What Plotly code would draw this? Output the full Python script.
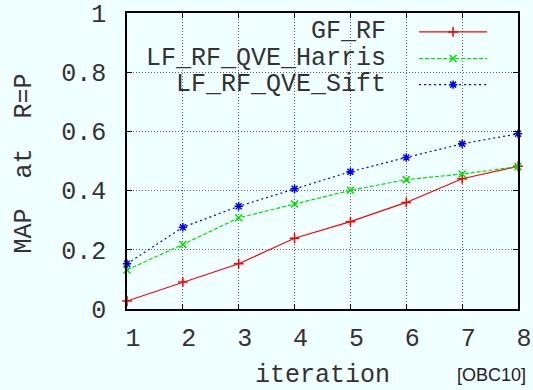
import plotly.graph_objects as go

iterations = [1, 2, 3, 4, 5, 6, 7, 8]
gf_rf = [0.027, 0.091, 0.153, 0.239, 0.295, 0.360, 0.440, 0.482]
lf_rf_qve_harris = [0.132, 0.218, 0.308, 0.355, 0.401, 0.437, 0.456, 0.481]
lf_rf_qve_sift = [0.153, 0.276, 0.347, 0.406, 0.464, 0.512, 0.558, 0.592]
series_names = ["GF_RF", "LF_RF_QVE_Harris", "LF_RF_QVE_Sift"]
y_ticks = [0, 0.2, 0.4, 0.6, 0.8, 1]
y_tick_labels = ["0", "0.2", "0.4", "0.6", "0.8", "1"]

BG = "#F0FFFF"
MONO = "Liberation Mono, Courier New, monospace"
FS = 25
TXT = "#333333"

styles = [
    dict(color="#FF0000", dash="solid", symbol="cross-thin-open"),
    dict(color="#00E000", dash="4px,2px", symbol="x-thin-open"),
    dict(color="#0000FF", dash="2px,3px", symbol="asterisk-open"),
]

fig = go.Figure()
for name, vals, st in zip(series_names, [gf_rf, lf_rf_qve_harris, lf_rf_qve_sift], styles):
    fig.add_trace(go.Scatter(
        x=iterations, y=vals, name=name, mode="lines+markers",
        line=dict(color=st["color"], width=1.2, dash=st["dash"]),
        marker=dict(symbol=st["symbol"], size=7, line=dict(color=st["color"], width=1.5)),
        showlegend=False, cliponaxis=False,
    ))

# manual legend (text on the left, sample on the right)
leg_y = [0.936, 0.846, 0.758]
for name, st, ly in zip(series_names, styles, leg_y):
    fig.add_annotation(xref="paper", yref="paper", x=0.668, y=ly, text=name,
                       showarrow=False, xanchor="right", yanchor="middle", height=25,
                       font=dict(family=MONO, size=FS, color=TXT))
    fig.add_shape(type="line", xref="paper", yref="paper", x0=0.747, x1=0.921, y0=ly, y1=ly,
                  line=dict(color=st["color"], width=1.2, dash=st["dash"]))
fig.add_trace(go.Scatter(
    x=[0.834] * 3, y=leg_y, xaxis="x2", yaxis="y2", mode="markers", showlegend=False,
    hoverinfo="skip", cliponaxis=False,
    marker=dict(symbol=[s["symbol"] for s in styles], size=7, color=[s["color"] for s in styles],
                line=dict(color=[s["color"] for s in styles], width=1.5)),
))

# axis titles and source note
fig.add_annotation(xref="paper", yref="paper", x=0.5, y=-0.223, text="iteration", showarrow=False,
                   xanchor="center", yanchor="middle", font=dict(family=MONO, size=FS, color=TXT))
fig.add_annotation(xref="paper", yref="paper", x=-0.262, y=0.49, text="MAP  at  R=P", showarrow=False,
                   textangle=-90, xanchor="center", yanchor="middle",
                   font=dict(family=MONO, size=FS, color=TXT))
fig.add_annotation(xref="paper", yref="paper", x=1.025, y=-0.223, text="[OBC10]", showarrow=False,
                   xanchor="right", yanchor="middle",
                   font=dict(family="Liberation Sans, Arial, sans-serif", size=18, color="#222"))

axis_common = dict(
    showline=True, linecolor="black", linewidth=1.5, mirror="ticks",
    ticks="inside", ticklen=5, tickcolor="black", tickwidth=1, automargin=False,
    showgrid=True, gridcolor="#606060", gridwidth=1, griddash="1px,2px",
    zeroline=False, tickfont=dict(family=MONO, size=FS, color=TXT),
)

fig.update_layout(
    width=533, height=390,
    margin=dict(l=127, r=15, t=13, b=81),
    paper_bgcolor=BG, plot_bgcolor=BG,
    xaxis=dict(range=[1, 8], tickvals=iterations, ticklabelshift=6, ticklabelstandoff=5,
               **axis_common),
    yaxis=dict(range=[0, 1], tickvals=y_ticks, ticktext=y_tick_labels, ticklabelstandoff=14,
               **axis_common),
    xaxis2=dict(range=[0, 1], overlaying="x", visible=False, fixedrange=True),
    yaxis2=dict(range=[0, 1], overlaying="y", visible=False, fixedrange=True),
)

fig.write_html(
    "out.html",
    config={"displayModeBar": False},
    post_script="document.body.style.margin='0';document.body.style.background='#F0FFFF';",
)
